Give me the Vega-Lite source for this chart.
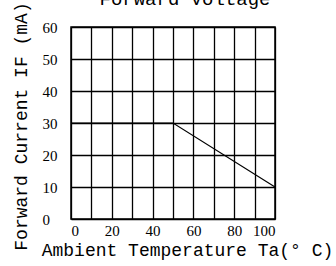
{
  "$schema": "https://vega.github.io/schema/vega-lite/v6.json",
  "autosize": "none",
  "width": 204,
  "height": 192,
  "padding": {"left": 71, "top": 27, "right": 61, "bottom": 47},
  "background": "white",
  "title": {"text": "Forward Voltage", "font": "Liberation Mono", "fontSize": 19, "fontWeight": "normal", "color": "black", "offset": -7, "anchor": "middle", "dx": 12},
  "config": {"view": {"stroke": "black", "strokeWidth": 1.5}},
  "data": {"values": [
    {"t": 0, "i": 30},
    {"t": 50, "i": 30},
    {"t": 100, "i": 10}
  ]},
  "mark": {"type": "line", "color": "black", "strokeWidth": 1.2},
  "encoding": {
    "x": {"field": "t", "type": "quantitative", "scale": {"domain": [0, 100], "nice": false},
      "axis": {"values": [0,10,20,30,40,50,60,70,80,90,100], "labelExpr": "datum.value % 20 == 0 ? datum.label : ''",
        "grid": true, "gridColor": "black", "gridOpacity": 1, "gridWidth": 1.3, "domain": false, "ticks": false,
        "labelFont": "Liberation Serif", "labelFontSize": 15, "labelColor": "black", "labelPadding": 4,
        "title": "Ambient Temperature Ta(° C)", "titleFont": "Liberation Mono", "titleFontSize": 18, "titleFontWeight": "normal", "titleColor": "black", "titlePadding": 3, "titleX": 116}},
    "y": {"field": "i", "type": "quantitative", "scale": {"domain": [0, 60], "nice": false},
      "axis": {"values": [0,10,20,30,40,50,60], "grid": true, "gridColor": "black", "gridOpacity": 1, "gridWidth": 1.3, "domain": false, "ticks": false,
        "labelFont": "Liberation Serif", "labelFontSize": 15, "labelColor": "black", "labelPadding": 29, "labelAlign": "left",
        "title": "Forward Current IF (mA)", "titleFont": "Liberation Mono", "titleFontSize": 18, "titleFontWeight": "normal", "titleColor": "black", "titleX": -50, "titleY": 99, "titleBaseline": "middle"}}
  }
}
